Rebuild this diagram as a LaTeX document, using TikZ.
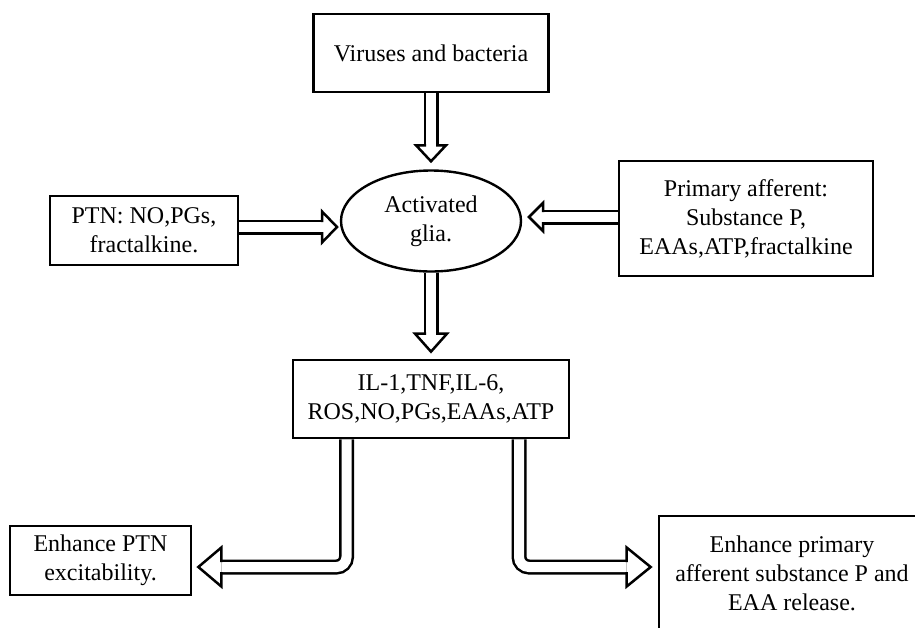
\documentclass[tikz,border=0pt]{standalone}
\usepackage{fontspec}
\setmainfont{Liberation Serif}
\usetikzlibrary{shapes.geometric,calc}
\pgfdeclarelayer{paper}
\pgfdeclarelayer{background}
\pgfsetlayers{paper,background,main}
\begin{document}
\begin{tikzpicture}[x=1pt,y=-1pt,
  box/.style={draw, line width=2.7pt, fill=white, inner sep=0pt, align=center,
    font=\fontsize{24}{29}\selectfont},
  ell/.style={box, ellipse, line width=2.4pt},
  dbl/.style={draw=black, line width=2.5pt, double=white, double distance=10pt},
  hd/.style={draw=black, line width=2.5pt, line join=miter, line cap=rect}
]
\useasboundingbox (0,0) rectangle (915,627);
\begin{pgfonlayer}{paper}
  \fill[white] (0,0) rectangle (915,627);
\end{pgfonlayer}
\clip (0,0) rectangle (915,627);

% nodes
\node[box, minimum width=235pt, minimum height=78pt] (vir) at (431,53) {Viruses and bacteria};
\node[ell, minimum width=180pt, minimum height=101pt] (glia) at (431,221) {Activated\\glia.};
\node[box, minimum width=188pt, minimum height=69pt] (ptn) at (144,230.5) {PTN: NO,PGs,\\fractalkine.};
\node[box, minimum width=254pt, minimum height=115pt] (prim) at (746,218.5) {Primary afferent:\\Substance P,\\EAAs,ATP,fractalkine};
\node[box, minimum width=276pt, minimum height=78pt] (mid) at (431,399) {IL-1,TNF,IL-6,\\ROS,NO,PGs,EAAs,ATP};
\node[box, minimum width=181pt, minimum height=69pt] (enh) at (100.5,560.5) {Enhance PTN\\excitability.};
\node[box, minimum width=266pt, minimum height=114pt] (enh2) at (792,573) {Enhance primary\\afferent substance P and\\EAA release.};

% connectors
\begin{pgfonlayer}{background}
  % viruses -> glia
  \coordinate (t1) at ($(glia.north)+(0,-8)$);
  \draw[dbl] (vir.south) -- ($(t1)+(0,-16)$);
  \draw[hd] ($(t1)+(-6.25,-16)$) -- ++(-8.75,0) -- (t1) -- ++(15,-16) -- ++(-8.75,0);
  % glia -> mid
  \coordinate (t4) at ($(mid.north)+(0,-7)$);
  \draw[dbl] (glia.south) -- ($(t4)+(0,-18)$);
  \draw[hd] ($(t4)+(-6.25,-18)$) -- ++(-9.75,0) -- (t4) -- ++(16,-18) -- ++(-9.75,0);
  % ptn -> glia
  \coordinate (t2) at (337,227);
  \draw[dbl] (ptn.east |- t2) -- ($(t2)+(-15,0)$);
  \draw[hd] ($(t2)+(-15,-6.25)$) -- ++(0,-9.25) -- (t2) -- ++(-15,15.5) -- ++(0,-9.25);
  % prim -> glia
  \coordinate (t3) at (529,217);
  \draw[dbl] (prim.west |- t3) -- ($(t3)+(14,0)$);
  \draw[hd] ($(t3)+(14,-6.25)$) -- ++(0,-7.75) -- (t3) -- ++(14,14) -- ++(0,-7.75);
  % mid -> enh
  \coordinate (t5) at ($(enh.east)+(6,6.5)$);
  \draw[dbl, rounded corners=10pt] ($(mid.south)+(-84.5,0)$) |- ($(t5)+(23,0)$);
  \draw[hd] ($(t5)+(23,-6.25)$) -- ++(0,-13.25) -- (t5) -- ++(23,19.5) -- ++(0,-13.25);
  % mid -> enh2
  \coordinate (t6) at ($(enh2.west)+(-7,-6)$);
  \draw[dbl, rounded corners=10pt] ($(mid.south)+(88,0)$) |- ($(t6)+(-24,0)$);
  \draw[hd] ($(t6)+(-24,-6.25)$) -- ++(0,-13.25) -- (t6) -- ++(-24,19.5) -- ++(0,-13.25);
\end{pgfonlayer}
\end{tikzpicture}
\end{document}
